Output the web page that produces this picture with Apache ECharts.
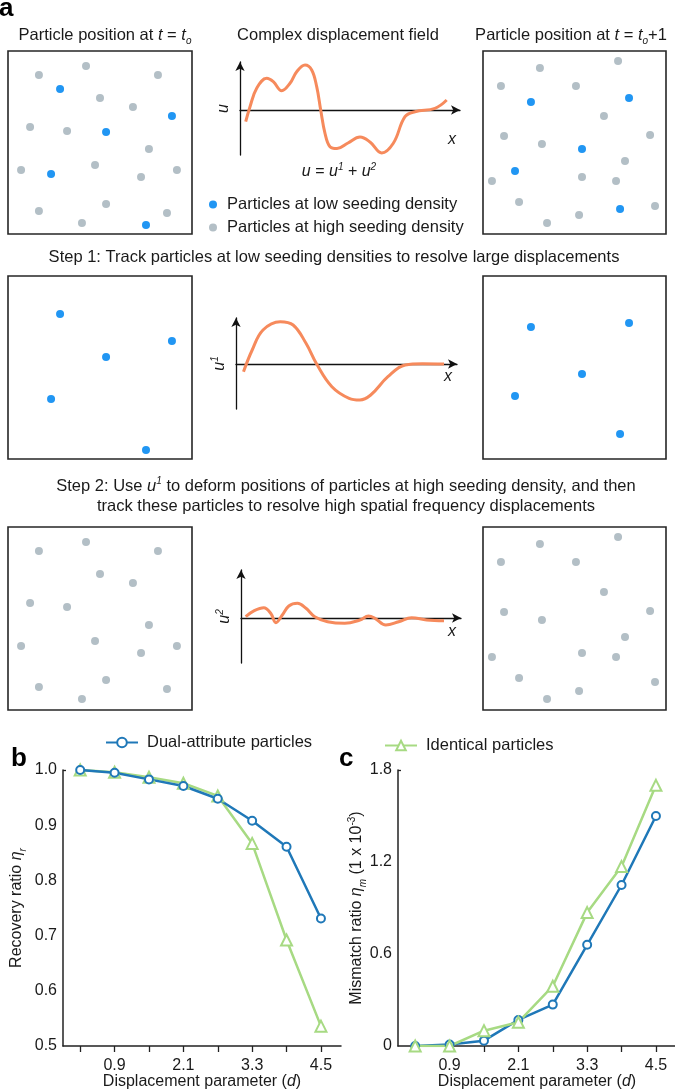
<!DOCTYPE html>
<html>
<head>
<meta charset="utf-8">
<script src="https://cdn.jsdelivr.net/npm/echarts@6/dist/echarts.min.js"></script>
<style>
html,body{margin:0;padding:0;background:#fff;}
#chart{width:675px;height:1089px;}
</style>
</head>
<body>
<div id="chart"></div>
<script>
// ---------- DATA ----------
// Particle positions inside each square panel (percent of box width / height, y measured downward)
const lowT0  = [[28.3,20.8],[89.1,35.5],[53.3,44.3],[23.4,67.2],[75.0,95.1]];
const highT0 = [[16.8,13.1],[42.4,8.2],[81.5,13.1],[50.0,25.7],[67.9,30.6],[12.0,41.5],[32.1,43.7],[76.6,53.6],
                [7.1,65.0],[47.3,62.3],[72.3,68.9],[91.8,65.0],[16.8,87.4],[53.3,83.6],[86.4,88.5],[40.2,94.0]];
const lowT1  = [[26.2,27.9],[79.8,25.7],[54.1,53.6],[17.5,65.6],[74.9,86.3]];
const highT1 = [[31.1,9.3],[73.8,5.5],[9.8,19.1],[50.8,19.1],[66.1,35.5],[11.5,46.4],[32.2,50.8],[91.3,45.9],
                [77.6,60.1],[54.1,68.9],[4.9,71.0],[72.7,71.0],[19.7,82.5],[52.5,89.6],[35.0,94.0],[94.0,84.7]];

// Displacement-field sketches (x along axis, u above/below axis)
const curveU  = [[5.7,-11.7],[10,3.3],[16.7,21.7],[26.7,31.7],[33.3,28.3],[41.7,19.3],[50,26.7],[56.7,38.3],[65,45],
                 [71.7,40],[76.7,23.3],[80.7,0],[85,-23.3],[90,-36.7],[97,-38.5],[108,-33],[120,-27],[130,-32],
                 [141.7,-43],[153.3,-33.3],[165,-6.7],[175,-1.7],[195,1.7],[206.7,10]];
const curveU1 = [[7.5,-7.7],[16.2,14],[27,34],[44.2,42.3],[57.1,39],[70,20.7],[80.8,-0.3],[95.9,-22.7],[113.1,-34.3],
                 [123.9,-36],[134.7,-31],[151.9,-12.7],[169.2,-1],[186.4,0.3],[208,0]];
const curveU2 = [[4.7,1.3],[13.3,7.3],[22.8,10.3],[29.7,4.7],[34.9,-4.7],[41.3,3],[47.8,12],[56.4,14.7],[65,9.7],
                 [73.7,1.3],[86.6,-3.7],[103.8,-5.3],[118.9,-2],[127.5,2],[134,-0.3],[144.8,-7],[157.7,-3.7],
                 [170.6,0.3],[185.7,-2],[203,-2.7]];

// Panels b and c
const dispParam          = [0.3, 0.9, 1.5, 2.1, 2.7, 3.3, 3.9, 4.5];
const dispTickValues     = [0.3, 0.9, 1.5, 2.1, 2.7, 3.3, 3.9, 4.5];
const dispLabelValues    = [0.9, 2.1, 3.3, 4.5];
const recoveryDual       = [1.0, 0.995, 0.983, 0.971, 0.948, 0.908, 0.861, 0.731];
const recoveryIdentical  = [1.0, 0.996, 0.987, 0.976, 0.953, 0.867, 0.692, 0.536];
const mismatchDual       = [0.0, 0.01, 0.035, 0.17, 0.27, 0.66, 1.05, 1.50];
const mismatchIdentical  = [0.0, 0.0, 0.10, 0.155, 0.39, 0.87, 1.17, 1.70];

const NAME_LOW = 'Particles at low seeding density';
const NAME_HIGH = 'Particles at high seeding density';
const NAME_DUAL = 'Dual-attribute particles';
const NAME_IDENT = 'Identical particles';

// ---------- STYLE ----------
const FONT = "'Liberation Sans', Arial, Helvetica, sans-serif";
const TXT = '#1a1a1a';
const BLUE_P = '#2196f3';
const GREY_P = '#b3bfc6';
const ORANGE = '#f68a5c';
const BLUE_L = '#1f78b8';
const GREEN_L = '#a7da83';

function makeRich(fs) {
  return {
    n:   {fontFamily: FONT, fontSize: fs, color: TXT, lineHeight: 20},
    i:   {fontFamily: FONT, fontSize: fs, color: TXT, fontStyle: 'italic', lineHeight: 20},
    s:   {fontFamily: FONT, fontSize: 10, color: TXT, fontStyle: 'italic', lineHeight: 10, padding: [12, 0, 0, 0]},
    sup: {fontFamily: FONT, fontSize: 10, color: TXT, fontStyle: 'italic', lineHeight: 10, padding: [0, 0, 10, 0]},
    supn:{fontFamily: FONT, fontSize: 10, color: TXT, lineHeight: 10, padding: [0, 0, 10, 0]}
  };
}
const rich16 = makeRich(16);
const rich165 = makeRich(16.5);

const grids = [
  {left: 8,   top: 51,  width: 184, height: 183, box: true},  // 0 t0 box
  {left: 240, top: 62,  width: 220, height: 93},              // 1 u
  {left: 483, top: 51,  width: 183, height: 183, box: true},  // 2 t0+1 box
  {left: 8,   top: 276, width: 184, height: 183, box: true},  // 3
  {left: 236, top: 318, width: 221, height: 91},              // 4 u1
  {left: 483, top: 276, width: 183, height: 183, box: true},  // 5
  {left: 8,   top: 527, width: 184, height: 183, box: true},  // 6
  {left: 241, top: 570, width: 220, height: 93},              // 7 u2
  {left: 483, top: 527, width: 183, height: 183, box: true},  // 8
  {left: 63,  top: 770, width: 278, height: 276},             // 9 panel b
  {left: 398, top: 770, width: 278, height: 276}              // 10 panel c
].map(g => Object.assign({
  show: !!g.box, borderColor: '#262626', borderWidth: g.box ? 1.6 : 0,
  containLabel: false, outerBoundsMode: 'none'
}, {left: g.left, top: g.top, width: g.width, height: g.height}));

const hidden = {show: false};
const xAxes = [], yAxes = [];
function boxAxes() {
  xAxes.push({type: 'value', gridIndex: xAxes.length, min: 0, max: 100, show: false, splitLine: hidden});
  yAxes.push({type: 'value', gridIndex: yAxes.length, min: 0, max: 100, inverse: true, show: false, splitLine: hidden});
}
function sketchAxes(xmax, ymin, ymax, yname) {
  const arrowLine = {show: true, onZero: true, symbol: ['none', 'arrow'], symbolSize: [7, 9],
                     lineStyle: {color: '#111', width: 1.3}};
  xAxes.push({type: 'value', gridIndex: xAxes.length, min: 0, max: xmax, axisLine: arrowLine,
              axisTick: hidden, axisLabel: hidden, splitLine: hidden});
  yAxes.push({type: 'value', gridIndex: yAxes.length, min: ymin, max: ymax, axisLine: arrowLine,
              axisTick: hidden, axisLabel: hidden, splitLine: hidden,
              name: yname, nameLocation: 'middle', nameGap: 6, nameRotate: 90, nameMoveOverlap: false,
              nameTextStyle: {rich: rich16}});
}
boxAxes();                                   // 0
sketchAxes(220, -45, 48, '{i|u}');            // 1
boxAxes();                                   // 2
boxAxes();                                   // 3
sketchAxes(221, -45, 46, '{i|u}{sup|1}');     // 4
boxAxes();                                   // 5
boxAxes();                                   // 6
sketchAxes(220, -45, 48, '{i|u}{sup|2}');     // 7
boxAxes();                                   // 8

const axLine = {show: true, onZero: false, lineStyle: {color: '#222', width: 1.5}};
function dispAxis(idx) {
  return {type: 'value', gridIndex: idx, min: 0, max: 4.85,
    axisLine: axLine,
    axisTick: {show: true, inside: false, length: 6, customValues: dispTickValues, lineStyle: {color: '#222', width: 1.3}},
    axisLabel: {show: true, customValues: dispLabelValues, margin: 12, fontFamily: FONT, fontSize: 16, color: TXT,
                formatter: v => v.toFixed(1)},
    splitLine: hidden,
    name: '{n|Displacement parameter (}{i|d}{n|)}', nameLocation: 'middle', nameGap: 26, nameMoveOverlap: false,
    nameTextStyle: {rich: rich16}};
}
xAxes.push(dispAxis(9));
yAxes.push({type: 'value', gridIndex: 9, min: 0.5, max: 1.0, interval: 0.1,
  axisLine: axLine,
  axisTick: {show: true, inside: true, length: 3, customValues: [1.0], lineStyle: {color: '#222', width: 1.3}},
  axisLabel: {show: true, margin: 6, fontFamily: FONT, fontSize: 16, color: TXT, formatter: v => v.toFixed(1)},
  splitLine: hidden,
  name: '{n|Recovery ratio }{i|η}{s|r}', nameLocation: 'middle', nameGap: 36, nameRotate: 90, nameMoveOverlap: false,
  nameTextStyle: {rich: rich16}});
xAxes.push(dispAxis(10));
yAxes.push({type: 'value', gridIndex: 10, min: 0, max: 1.8, interval: 0.6,
  axisLine: axLine,
  axisTick: {show: true, inside: true, length: 3, customValues: [1.8], lineStyle: {color: '#222', width: 1.3}},
  axisLabel: {show: true, margin: 6, fontFamily: FONT, fontSize: 16, color: TXT,
              formatter: v => v === 0 ? '0' : v.toFixed(1)},
  splitLine: hidden,
  name: '{n|Mismatch ratio }{i|η}{s|m}{n| (1 x 10}{supn|-3}{n|)}', nameLocation: 'middle', nameGap: 31, nameRotate: 90,
  nameMoveOverlap: false, nameTextStyle: {rich: rich16}});

// ---------- SERIES ----------
const series = [];
function particles(idx, name, data, color) {
  series.push({type: 'scatter', name, xAxisIndex: idx, yAxisIndex: idx, data, symbol: 'circle', symbolSize: 8,
               itemStyle: {color, opacity: 1}, silent: true});
}
particles(0, NAME_HIGH, highT0, GREY_P);
particles(0, NAME_LOW, lowT0, BLUE_P);
particles(2, NAME_HIGH, highT1, GREY_P);
particles(2, NAME_LOW, lowT1, BLUE_P);
particles(3, NAME_LOW, lowT0, BLUE_P);
particles(5, NAME_LOW, lowT1, BLUE_P);
particles(6, NAME_HIGH, highT0, GREY_P);
particles(8, NAME_HIGH, highT1, GREY_P);

function sketch(idx, data) {
  series.push({type: 'line', xAxisIndex: idx, yAxisIndex: idx, data, smooth: 0.4, showSymbol: false, silent: true,
               lineStyle: {color: ORANGE, width: 3}, z: 3});
}
sketch(1, curveU);
sketch(4, curveU1);
sketch(7, curveU2);

function zip(xs, ys) { return xs.map((x, i) => [x, ys[i]]); }
const dualStyle = {symbol: 'emptyCircle', symbolSize: 8, lineStyle: {color: BLUE_L, width: 2.5},
                   itemStyle: {color: BLUE_L, borderColor: BLUE_L, borderWidth: 2}};
const identStyle = {symbol: 'emptyTriangle', symbolSize: 11, lineStyle: {color: GREEN_L, width: 2.5},
                    itemStyle: {color: GREEN_L, borderColor: GREEN_L, borderWidth: 2}};
series.push(Object.assign({type: 'line', name: NAME_IDENT, xAxisIndex: 9, yAxisIndex: 9, data: zip(dispParam, recoveryIdentical)}, identStyle));
series.push(Object.assign({type: 'line', name: NAME_DUAL, xAxisIndex: 9, yAxisIndex: 9, data: zip(dispParam, recoveryDual)}, dualStyle));
series.push(Object.assign({type: 'line', name: NAME_DUAL, xAxisIndex: 10, yAxisIndex: 10, data: zip(dispParam, mismatchDual)}, dualStyle));
series.push(Object.assign({type: 'line', name: NAME_IDENT, xAxisIndex: 10, yAxisIndex: 10, data: zip(dispParam, mismatchIdentical)}, identStyle));

// ---------- TEXT ----------
function txt(x, y, text, opts) {
  return Object.assign({type: 'text', x: x, y: y, silent: true, style: Object.assign({
    text, fontFamily: FONT, fontSize: 16.5, fill: TXT,
    align: 'center', verticalAlign: 'middle', textAlign: 'center', textVerticalAlign: 'middle'
  }, opts || {})});
}
const graphics = [
  txt(-1, 9, 'a', {fontSize: 26, fontWeight: 'bold', fill: '#000', align: 'left', textAlign: 'left'}),
  txt(11, 759, 'b', {fontSize: 26, fontWeight: 'bold', fill: '#000', align: 'left', textAlign: 'left'}),
  txt(339, 759, 'c', {fontSize: 26, fontWeight: 'bold', fill: '#000', align: 'left', textAlign: 'left'}),
  txt(105, 35, '{n|Particle position at }{i|t}{n| = }{i|t}{s|o}', {rich: rich165}),
  txt(338, 35, 'Complex displacement field'),
  txt(571, 35, '{n|Particle position at }{i|t}{n| = }{i|t}{s|o}{n|+1}', {rich: rich165}),
  txt(339, 172, '{i|u}{n| = }{i|u}{sup|1}{n| + }{i|u}{sup|2}', {rich: rich16}),
  txt(452, 140, 'x', {fontStyle: 'italic', fontSize: 16}),
  txt(448, 377, 'x', {fontStyle: 'italic', fontSize: 16}),
  txt(452, 632, 'x', {fontStyle: 'italic', fontSize: 16}),
  txt(334, 257, 'Step 1: Track particles at low seeding densities to resolve large displacements'),
  txt(346, 496, '{n|Step 2: Use }{i|u}{sup|1}{n| to deform positions of particles at high seeding density, and then}\n{n|track these particles to resolve high spatial frequency displacements}', {rich: rich165})
];

const chart = echarts.init(document.getElementById('chart'), null, {renderer: 'canvas'});
chart.setOption({
  animation: false,
  backgroundColor: '#fff',
  textStyle: {fontFamily: FONT},
  grid: grids,
  xAxis: xAxes,
  yAxis: yAxes,
  legend: [
    {data: [{name: NAME_LOW, icon: 'circle'}, {name: NAME_HIGH, icon: 'circle'}], orient: 'vertical',
     left: 204, top: 191, itemWidth: 18, itemHeight: 8, itemGap: 6, selectedMode: false,
     textStyle: {fontFamily: FONT, fontSize: 16.5, color: TXT, lineHeight: 16}},
    {data: [NAME_DUAL], left: 105, top: 734, padding: 0, itemWidth: 32, itemHeight: 12, selectedMode: false,
     textStyle: {fontFamily: FONT, fontSize: 16.5, color: TXT, padding: [0, 0, 0, 4]}},
    {data: [NAME_IDENT], left: 384, top: 737, padding: 0, itemWidth: 32, itemHeight: 12, selectedMode: false,
     textStyle: {fontFamily: FONT, fontSize: 16.5, color: TXT, padding: [0, 0, 0, 4]}}
  ],
  series: series,
  graphic: graphics
});
</script>
</body>
</html>
